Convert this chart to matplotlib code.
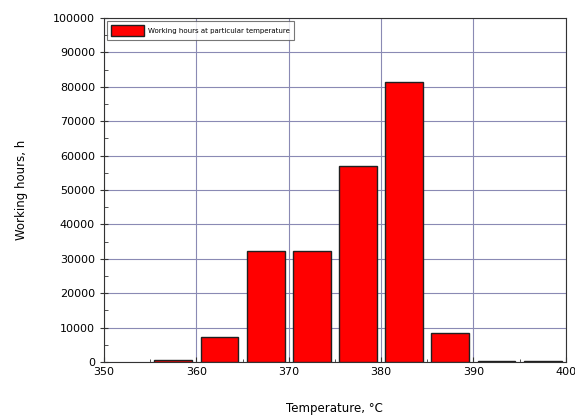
import matplotlib.pyplot as plt
from matplotlib.ticker import MultipleLocator

temps = [357.5, 362.5, 367.5, 372.5, 377.5, 382.5, 387.5, 392.5, 397.5]
hours = [700, 7200, 32300, 32200, 57000, 81500, 8500, 200, 200]

fig = plt.figure(figsize=(5.75, 4.2), dpi=100)
ax = fig.add_axes([0.181, 0.138, 0.803, 0.819])

ax.bar(temps, hours, width=4.1, color="#ff0000", edgecolor="#202020",
       linewidth=1.0, label="Working hours at particular temperature", zorder=3)

ax.set_xlim(350, 400)
ax.set_ylim(0, 100000)
ax.xaxis.set_major_locator(MultipleLocator(10))
ax.xaxis.set_minor_locator(MultipleLocator(5))
ax.yaxis.set_major_locator(MultipleLocator(10000))
ax.yaxis.set_minor_locator(MultipleLocator(5000))
ax.grid(True, which="major", color="#8a8ab4", linewidth=0.8, zorder=0)
ax.tick_params(axis="both", which="both", labelsize=8, color="#333333")
ax.tick_params(axis="x", which="both", direction="in")
ax.tick_params(axis="y", which="major", direction="inout", length=6)
ax.tick_params(axis="y", which="minor", direction="in", length=3)

for s in ax.spines.values():
    s.set_color("#333333")

ax.set_xlabel("Temperature, °C", fontsize=8.5, labelpad=18)
ax.set_ylabel("Working hours, h", fontsize=8.5, labelpad=18)

leg = ax.legend(loc="upper left", fontsize=5, frameon=True, fancybox=False,
                edgecolor="#555555", handlelength=4.8, handleheight=2,
                borderaxespad=0.4, borderpad=0.6, handletextpad=0.5)
leg.get_frame().set_linewidth(0.8)

fig.savefig("out.png", dpi=100)
